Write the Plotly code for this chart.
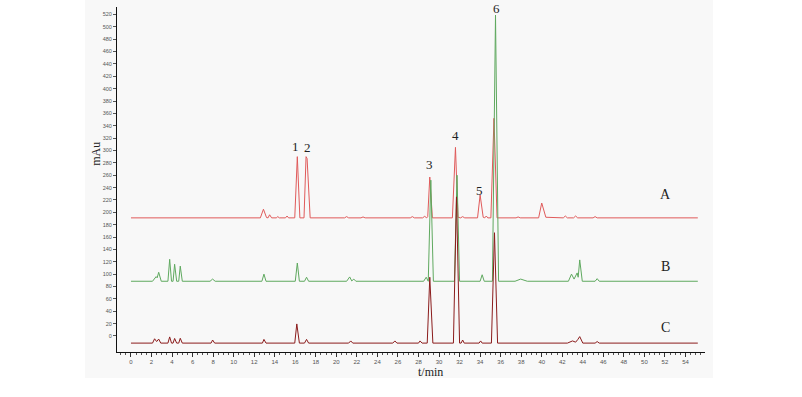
import plotly.graph_objects as go

# ---- data (time in min, signal in mAu) ----
A_t = [0, 12.6, 12.9, 13.2, 13.35, 13.5, 13.7, 14.15, 14.3, 14.45, 15.05, 15.2, 15.35,
       15.95, 16.2, 16.45, 16.85, 17.05, 17.15, 17.45, 20.8, 21.0, 21.2, 22.4, 22.6, 22.8,
       27.2, 27.4, 27.6, 28.4, 28.6, 28.8, 28.9, 29.1, 29.35, 31.3, 31.6, 31.85, 32.1, 32.3, 32.5,
       33.75, 34.0, 34.3, 34.45, 34.6, 34.75, 35.05, 35.35, 35.65, 37.5, 37.7, 37.9,
       39.7, 40.0, 40.4, 42.1, 42.3, 42.5, 43.1, 43.3, 43.5, 45.0, 45.2, 45.4, 55.2]
A_v = [191, 191, 205, 191.5, 191, 196, 191, 191, 193, 191, 191, 194, 191,
       191, 290, 191, 191, 290, 287, 191, 191, 193, 191, 191, 192.5, 191,
       191, 193, 191, 191, 193.5, 191, 193, 257, 191, 191, 305, 192, 191, 193, 191,
       191, 228, 192, 191, 194, 191, 191, 352, 191, 191, 192.5, 191,
       191, 215, 192, 191, 194, 191, 191, 194, 191, 191, 193, 191, 191]

B_t = [0, 2.1, 2.45, 2.55, 2.7, 2.95, 3.6, 3.77, 3.95, 4.1, 4.25, 4.45, 4.65, 4.8, 5.0,
       7.7, 7.95, 8.2, 12.75, 12.95, 13.15, 16.0, 16.2, 16.4, 16.9, 17.1, 17.3,
       21.0, 21.3, 21.5, 21.7, 21.9, 28.5, 28.75, 28.95, 29.2, 29.45, 31.5, 31.75, 32.0,
       34.0, 34.2, 34.4, 35.2, 35.5, 35.8, 37.4, 37.95, 38.6,
       42.6, 42.9, 43.15, 43.45, 43.55, 43.7, 43.95, 45.2, 45.4, 45.6, 55.2]
B_v = [88.5, 88.5, 96, 94, 103, 88.5, 88.5, 124, 88.5, 88.5, 116, 88.5, 88.5, 113, 88.5,
       88.5, 92, 88.5, 88.5, 100, 88.5, 88.5, 118, 88.5, 88.5, 95, 88.5,
       88.5, 95.5, 89, 92, 88.5, 88.5, 95, 88.5, 252, 88.5, 88.5, 260, 88.5,
       88.5, 99, 88.5, 88.5, 519, 88.5, 88.5, 92, 88.5,
       88.5, 100, 92, 102, 95, 123, 88.5, 88.5, 92.7, 88.5, 88.5]

C_t = [0, 2.1, 2.3, 2.5, 2.7, 2.9, 3.6, 3.77, 3.95, 4.1, 4.25, 4.45, 4.65, 4.8, 5.0,
       7.8, 7.95, 8.15, 12.8, 12.95, 13.15, 15.95, 16.15, 16.4, 16.9, 17.1, 17.3,
       21.2, 21.4, 21.6, 25.5, 25.7, 25.9, 28.0, 28.15, 28.35, 28.85, 29.1, 29.4,
       31.4, 31.7, 32.0, 32.15, 32.3, 32.45, 33.9, 34.05, 34.2, 35.1, 35.4, 35.7,
       42.5, 43.0, 43.3, 43.5, 43.7, 44.0, 45.2, 45.4, 45.6, 55.2]
C_v = [-11.5, -11.5, -4.5, -9, -5, -11.5, -11.5, -1.5, -11.5, -11.5, -4, -11.5, -11.5, -3.7, -11.5,
       -11.5, -6.5, -11.5, -11.5, -5.5, -11.5, -11.5, 19.5, -11.5, -11.5, -5.5, -11.5,
       -11.5, -8, -11.5, -11.5, -8, -11.5, -11.5, -8, -11.5, -11.5, 95, -11.5,
       -11.5, 225, -11.5, -11.5, -6.5, -11.5, -11.5, -8, -11.5, -11.5, 167, -11.5,
       -11.5, -8, -10, -6, -1, -11.5, -11.5, -9, -11.5, -11.5]

trace_names = ["A", "B", "C"]
trace_colors = ["#e05a5a", "#5fa95f", "#8b1c1c"]
trace_label_y = [228, 112, 13]

peak_labels = ["1", "2", "3", "4", "5", "6"]
peak_label_t = [16.05, 17.2, 29.05, 31.65, 33.9, 35.55]
peak_label_v = [306, 304, 277, 325, 235, 530]

y_ticks = list(range(0, 521, 20))
x_ticks = list(range(0, 55, 2))

fig = go.Figure()
for t, v, c in [(A_t, A_v, trace_colors[0]), (B_t, B_v, trace_colors[1]), (C_t, C_v, trace_colors[2])]:
    fig.add_trace(go.Scatter(x=t, y=v, mode="lines", line=dict(color=c, width=1),
                             showlegend=False, hoverinfo="skip"))

serif = "Liberation Serif, Times New Roman, serif"
for lab, t, v in zip(peak_labels, peak_label_t, peak_label_v):
    fig.add_annotation(x=t, y=v, text=lab, showarrow=False,
                       font=dict(family=serif, size=13, color="#222"), yanchor="middle")
for lab, v in zip(trace_names, trace_label_y):
    fig.add_annotation(x=52.1, y=v, text=lab, showarrow=False,
                       font=dict(family=serif, size=14, color="#222"))

fig.add_annotation(xref="paper", yref="paper", x=-0.036, y=0.574, text="mAu", textangle=-90,
                   xanchor="center", yanchor="middle",
                   showarrow=False, font=dict(family=serif, size=12, color="#222"))
fig.add_annotation(xref="paper", yref="paper", x=0.534, y=-0.057, text="t/min",
                   xanchor="center", yanchor="middle",
                   showarrow=False, font=dict(family=serif, size=12, color="#222"))

# light panel behind the chart
fig.add_shape(type="rect", xref="paper", yref="paper", x0=-0.0544, x1=1.0136,
              y0=-0.0754, y1=1.0203, fillcolor="#f8f8f8", line=dict(width=0), layer="below")

fig.update_layout(
    width=802, height=397,
    margin=dict(l=117, r=97, t=7, b=45),
    paper_bgcolor="white", plot_bgcolor="rgba(0,0,0,0)",
    xaxis=dict(range=[-1.36, 55.9], tickvals=x_ticks, ticks="outside", ticklen=4,
               tickwidth=1, tickcolor="#333", showline=True, linecolor="#111", linewidth=1,
               showgrid=False, zeroline=False,
               tickfont=dict(family="Liberation Sans, Arial", size=6, color="#555"),
               minor=dict(dtick=0.5, ticks="outside", ticklen=2, tickcolor="#555")),
    yaxis=dict(range=[-25.9, 532], tickvals=y_ticks, ticks="outside", ticklen=3,
               tickwidth=1, tickcolor="#555", showline=True, linecolor="#111", linewidth=1,
               showgrid=False, zeroline=False,
               tickfont=dict(family="Liberation Sans, Arial", size=5.5, color="#555")),
)

fig.write_html("out.html")
